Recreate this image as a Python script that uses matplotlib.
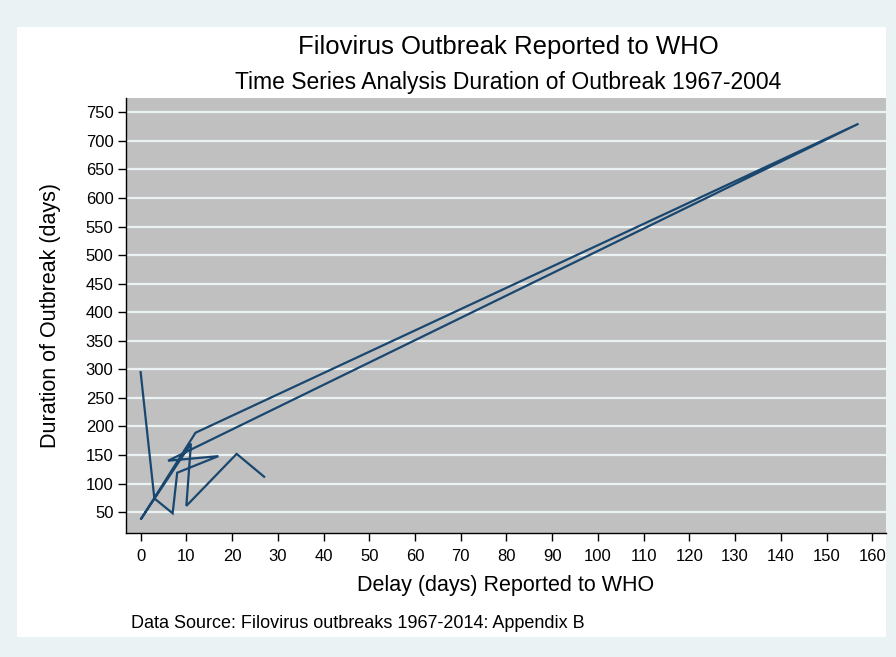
import matplotlib
matplotlib.use("Agg")
import matplotlib.pyplot as plt
from matplotlib.patches import Rectangle

plt.rcParams['font.family'] = ['Liberation Sans', 'DejaVu Sans']

# Outbreaks in record order: reporting delay vs. outbreak duration
delay_days = [0, 3, 7, 8, 17, 6, 157, 12, 0, 11, 10, 21, 27]
duration_days = [295, 74, 48, 119, 148, 140, 730, 189, 37, 170, 61, 152, 112]

x_ticks = list(range(0, 161, 10))
y_ticks = list(range(50, 751, 50))

outer_bg = "#EAF2F3"
plot_bg = "#C0C0C0"
grid_col = "#EAF2F3"
line_col = "#1A476F"

W, H = 896, 657
fig = plt.figure(figsize=(W / 100, H / 100), dpi=100)
fig.patch.set_facecolor(outer_bg)

# inner white graph region
fig.patches.append(Rectangle((17 / W, 1 - 637 / H), (886 - 17) / W, (637 - 27) / H,
                             transform=fig.transFigure, facecolor="white",
                             edgecolor="none", zorder=-5))

left, right, top, bottom = 126, 886, 98, 532.7
ax = fig.add_axes([left / W, 1 - bottom / H, (right - left) / W, (bottom - top) / H])
ax.set_zorder(2)
ax.set_facecolor(plot_bg)

ax.plot(delay_days, duration_days, color=line_col, lw=1.6, solid_joinstyle="miter", zorder=3)

ax.set_xlim(-3.2, 163)
ax.set_ylim(14, 775)
ax.set_xticks(x_ticks)
ax.set_yticks(y_ticks)
ax.yaxis.grid(True, color=grid_col, lw=1.6)
ax.xaxis.grid(False)
ax.set_axisbelow(True)

for s in ("top", "right"):
    ax.spines[s].set_visible(False)
for s in ("left", "bottom"):
    ax.spines[s].set_color("black")
    ax.spines[s].set_linewidth(1.0)

ax.tick_params(axis="both", direction="out", length=6, width=1.0, color="black",
               labelsize=12)
ax.tick_params(axis="x", pad=6)
ax.tick_params(axis="y", pad=3)

ax.set_xlabel("Delay (days) Reported to WHO", fontsize=15.5, labelpad=8)
ax.set_ylabel("Duration of Outbreak (days)", fontsize=15.5, labelpad=18)

fig.text(508 / W, 1 - 47 / H, "Filovirus Outbreak Reported to WHO",
         ha="center", va="center", fontsize=18.5)
fig.text(508 / W, 1 - 83 / H, "Time Series Analysis Duration of Outbreak 1967-2004",
         ha="center", va="center", fontsize=16.5)
fig.text(131 / W, 1 - 623 / H, "Data Source: Filovirus outbreaks 1967-2014: Appendix B",
         ha="left", va="center", fontsize=13)

fig.savefig("out.png", dpi=100, facecolor=fig.get_facecolor())
